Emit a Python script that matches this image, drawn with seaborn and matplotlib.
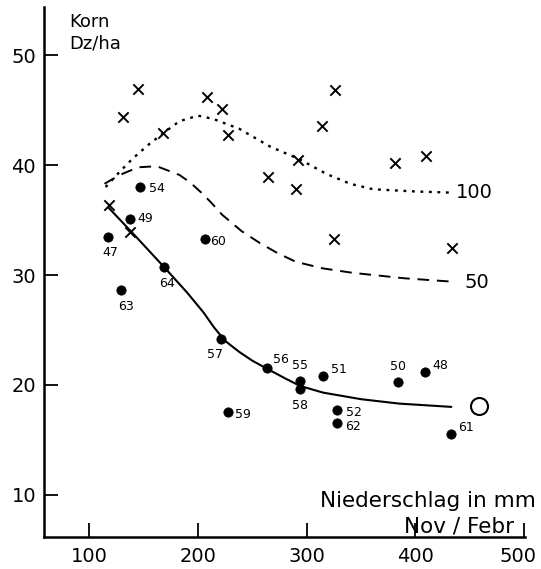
import matplotlib
matplotlib.use("Agg")
import matplotlib.pyplot as plt
import matplotlib.transforms as mtransforms
import seaborn as sns

# ---- data ----
cross_x = [118, 131, 145, 137, 168, 208, 222, 228, 264, 290, 292, 314, 326, 325, 381, 410, 434]
cross_y = [36.4, 44.4, 46.9, 33.9, 42.9, 46.2, 45.1, 42.7, 38.9, 37.8, 40.5, 43.6, 46.8, 33.3, 40.2, 40.8, 32.5]

dot_labels = ["54", "49", "47", "60", "64", "63", "57", "59", "56", "55", "58", "51", "50", "48", "52", "62", "61"]
dot_x = [147, 137, 117, 206, 169, 129, 221, 228, 263, 294, 294, 315, 384, 409, 328, 328, 433]
dot_y = [38.0, 35.1, 33.5, 33.3, 30.7, 28.6, 24.2, 17.5, 21.5, 20.4, 19.6, 20.8, 20.3, 21.2, 17.7, 16.5, 15.5]

open_x = [458]
open_y = [18.1]

solid_x = [118, 140, 169, 190, 205, 215, 225, 238, 250, 263, 280, 294, 315, 350, 385, 433]
solid_y = [36.1, 33.8, 30.7, 28.4, 26.6, 25.2, 24.0, 23.0, 22.2, 21.5, 20.6, 19.9, 19.3, 18.7, 18.3, 18.0]

dash_x = [114, 128, 145, 162, 183, 193, 203, 212, 222, 240, 257, 273, 290, 315, 342, 390, 433]
dash_y = [38.3, 39.1, 39.8, 39.9, 39.1, 38.4, 37.5, 36.6, 35.5, 34.0, 32.9, 32.0, 31.2, 30.6, 30.2, 29.7, 29.4]

dot100_x = [115, 128, 140, 155, 168, 183, 200, 214, 238, 266, 294, 318, 340, 361, 400, 431]
dot100_y = [38.0, 39.4, 40.6, 41.9, 42.9, 44.0, 44.5, 44.2, 43.3, 41.7, 40.5, 39.2, 38.3, 37.8, 37.6, 37.5]

x_ticks = [100, 200, 300, 400, 500]
y_ticks = [10, 20, 30, 40, 50]

# ---- plot ----
sns.set_style("ticks")
plt.rcParams["font.family"] = ["DejaVu Sans"]
plt.rcParams["text.color"] = "black"
plt.rcParams["xtick.color"] = "black"
plt.rcParams["ytick.color"] = "black"
plt.rcParams["axes.edgecolor"] = "black"

fig = plt.figure(figsize=(5.41, 5.69), dpi=100)
ax = fig.add_axes([0.082, 0.056, 0.888, 0.932])

sns.lineplot(x=solid_x, y=solid_y, ax=ax, color="black", lw=1.5, sort=False)
sns.lineplot(x=dash_x, y=dash_y, ax=ax, color="black", lw=1.4, sort=False,
             linestyle=(0, (6, 4)))
sns.lineplot(x=dot100_x, y=dot100_y, ax=ax, color="black", lw=1.7, sort=False,
             linestyle=(0, (1.2, 2.4)))

sns.scatterplot(x=cross_x, y=cross_y, ax=ax, marker="x", s=55, color="black",
                linewidth=1.4)
sns.scatterplot(x=dot_x, y=dot_y, ax=ax, marker="o", s=45, color="black",
                edgecolor="black")
sns.scatterplot(x=open_x, y=open_y, ax=ax, marker="o", s=150, facecolor="white",
                edgecolor="black", linewidth=1.5)

# point labels (offsets in points)
offsets = {
    "54": (6, -6), "49": (6, -4), "47": (-4, -16), "60": (4, -7), "64": (-4, -16),
    "63": (-2, -16), "57": (-10, -16), "59": (5, -6), "56": (5, 2), "55": (-6, 6),
    "58": (-6, -16), "51": (6, 0), "50": (-6, 6), "48": (5, 0), "52": (6, -6),
    "62": (6, -7), "61": (5, 0),
}
for lab, x, y in zip(dot_labels, dot_x, dot_y):
    ax.annotate(lab, (x, y), xytext=offsets[lab], textcoords="offset points",
                fontsize=9, ha="left", va="bottom", color="black")

ax.text(82, 53.8, "Korn\nDz/ha", fontsize=13, ha="left", va="top", linespacing=1.25)
ax.text(437, 37.5, "100", fontsize=14, ha="left", va="center")
ax.text(445, 29.3, "50", fontsize=14, ha="left", va="center")
ax.text(511, 9.4, "Niederschlag in mm", fontsize=15.5, ha="right", va="center")
ax.text(440, 7.1, "Nov / Febr", fontsize=15.5, ha="center", va="center")

ax.set_xlim(58.7, 500.5)
ax.set_ylim(6.15, 54.4)
ax.set_xticks(x_ticks)
ax.set_yticks(y_ticks)
ax.tick_params(direction="in", length=10, width=1.3, labelsize=14, pad=7,
               colors="black")
ax.tick_params(axis="y", pad=6)
for s in ["top", "right"]:
    ax.spines[s].set_visible(False)
for s in ["left", "bottom"]:
    ax.spines[s].set_linewidth(1.8)
    ax.spines[s].set_color("black")
ax.set_xlabel("")
ax.set_ylabel("")

# nudge the last x tick label so it stays inside the figure
last = ax.get_xticklabels()[-1]
last.set_transform(last.get_transform() + mtransforms.ScaledTranslation(-6 / 100, 0, fig.dpi_scale_trans))

fig.savefig("out.png", dpi=100)
